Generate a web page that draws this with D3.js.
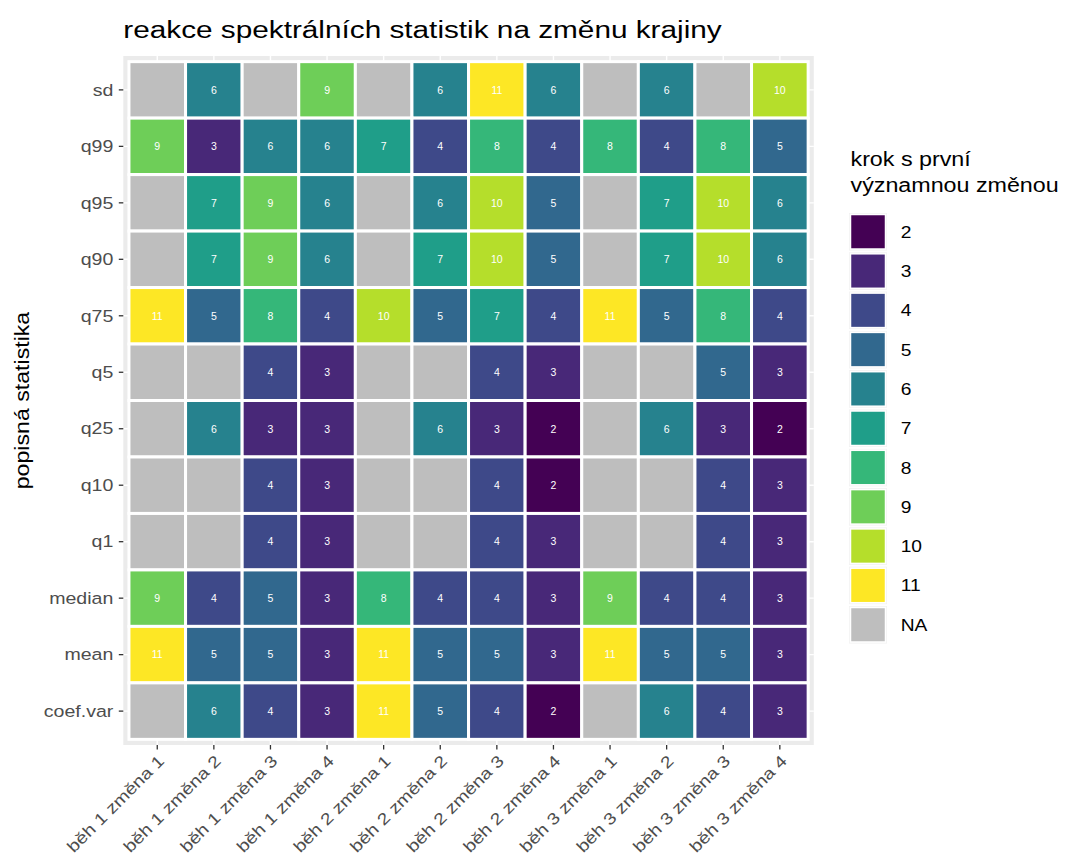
<!DOCTYPE html>
<html>
<head>
<meta charset="utf-8">
<script src="https://cdn.jsdelivr.net/npm/d3@7"></script>
<style>
  html, body { margin: 0; padding: 0; background: #fff; }
  svg text { font-family: "Liberation Sans", Arial, sans-serif; }
</style>
</head>
<body>
<svg id="chart" width="1072" height="857"></svg>
<script>
// Column categories (run × change) and row statistics (top to bottom)
const columns = [
  "běh 1 změna 1", "běh 1 změna 2", "běh 1 změna 3", "běh 1 změna 4",
  "běh 2 změna 1", "běh 2 změna 2", "běh 2 změna 3", "běh 2 změna 4",
  "běh 3 změna 1", "běh 3 změna 2", "běh 3 změna 3", "běh 3 změna 4"
];
const statistics = ["sd", "q99", "q95", "q90", "q75", "q5", "q25", "q10", "q1", "median", "mean", "coef.var"];

// Step with the first significant change, one array per statistic (null = NA)
const sd      = [null, 6, null, 9, null, 6, 11, 6, null, 6, null, 10];
const q99     = [9, 3, 6, 6, 7, 4, 8, 4, 8, 4, 8, 5];
const q95     = [null, 7, 9, 6, null, 6, 10, 5, null, 7, 10, 6];
const q90     = [null, 7, 9, 6, null, 7, 10, 5, null, 7, 10, 6];
const q75     = [11, 5, 8, 4, 10, 5, 7, 4, 11, 5, 8, 4];
const q5      = [null, null, 4, 3, null, null, 4, 3, null, null, 5, 3];
const q25     = [null, 6, 3, 3, null, 6, 3, 2, null, 6, 3, 2];
const q10     = [null, null, 4, 3, null, null, 4, 2, null, null, 4, 3];
const q1      = [null, null, 4, 3, null, null, 4, 3, null, null, 4, 3];
const median  = [9, 4, 5, 3, 8, 4, 4, 3, 9, 4, 4, 3];
const mean    = [11, 5, 5, 3, 11, 5, 5, 3, 11, 5, 5, 3];
const coefVar = [null, 6, 4, 3, 11, 5, 4, 2, null, 6, 4, 3];

const rowValues = [sd, q99, q95, q90, q75, q5, q25, q10, q1, median, mean, coefVar];

// Legend levels
const levels = [2, 3, 4, 5, 6, 7, 8, 9, 10, 11];
const levelLabels = ["2", "3", "4", "5", "6", "7", "8", "9", "10", "11", "NA"];

const title = "reakce spektrálních statistik na změnu krajiny";
const yTitle = "popisná statistika";
const legendTitle = ["krok s první", "významnou změnou"];

// Long-form table for the tiles
const cells = [];
statistics.forEach((s, i) => {
  rowValues[i].forEach((v, j) => cells.push({ stat: s, col: columns[j], value: v }));
});

const svg = d3.select("#chart");
const stretch = 1.2;   // horizontal widening of the text glyphs

// Panel geometry
const panel = { left: 123.3, top: 56, width: 690.5, height: 689 };
const naColor = "#BEBEBE";

const x = d3.scaleBand().domain(columns)
  .range([panel.left, panel.left + panel.width]).paddingOuter(0.1).paddingInner(0);
const y = d3.scaleBand().domain(statistics)
  .range([panel.top, panel.top + panel.height]).paddingOuter(0.1).paddingInner(0);

const color = d3.scaleOrdinal().domain(levels)
  .range(levels.map((d, i) => d3.interpolateViridis(i / (levels.length - 1))));
const fill = v => v == null ? naColor : color(v);

// Panel background and grid
svg.append("rect")
  .attr("x", panel.left).attr("y", panel.top)
  .attr("width", panel.width).attr("height", panel.height)
  .attr("fill", "#EBEBEB");

const grid = svg.append("g");
grid.selectAll("line.vx").data(columns).join("line")
  .attr("x1", d => x(d) + x.bandwidth() / 2).attr("x2", d => x(d) + x.bandwidth() / 2)
  .attr("y1", panel.top).attr("y2", panel.top + panel.height)
  .attr("stroke", "#fff").attr("stroke-width", 1.4);
grid.selectAll("line.hy").data(statistics).join("line")
  .attr("y1", d => y(d) + y.bandwidth() / 2).attr("y2", d => y(d) + y.bandwidth() / 2)
  .attr("x1", panel.left).attr("x2", panel.left + panel.width)
  .attr("stroke", "#fff").attr("stroke-width", 1.4);

// Tiles
const tiles = svg.append("g");
tiles.selectAll("rect").data(cells).join("rect")
  .attr("x", d => x(d.col)).attr("y", d => y(d.stat))
  .attr("width", x.bandwidth()).attr("height", y.bandwidth())
  .attr("fill", d => fill(d.value))
  .attr("stroke", "#fff").attr("stroke-width", 3);

tiles.selectAll("text").data(cells.filter(d => d.value != null)).join("text")
  .attr("x", d => x(d.col) + x.bandwidth() / 2)
  .attr("y", d => y(d.stat) + y.bandwidth() / 2)
  .attr("text-anchor", "middle").attr("dy", "0.36em")
  .attr("font-size", 10.5).attr("fill", "#fff")
  .text(d => d.value);

// Axes
const tickLen = 4.5;
const xAxis = svg.append("g")
  .attr("transform", `translate(0,${panel.top + panel.height})`)
  .call(d3.axisBottom(x).tickSize(tickLen).tickPadding(3));
xAxis.select(".domain").remove();
xAxis.selectAll(".tick line").attr("stroke", "#333").attr("stroke-width", 1.3);
xAxis.selectAll(".tick text")
  .attr("fill", "#4D4D4D").attr("font-size", 16.3)
  .attr("text-anchor", "end")
  .attr("dy", null)
  .attr("x", 0).attr("y", 0)
  .attr("transform", `translate(8,17) rotate(-45) scale(${stretch},1)`);

const yAxis = svg.append("g")
  .attr("transform", `translate(${panel.left},0)`)
  .call(d3.axisLeft(y).tickSize(tickLen).tickPadding(3));
yAxis.select(".domain").remove();
yAxis.selectAll(".tick line").attr("stroke", "#333").attr("stroke-width", 1.3);
yAxis.selectAll(".tick text")
  .attr("fill", "#4D4D4D").attr("font-size", 16.3)
  .attr("x", 0).attr("dy", "0.35em")
  .attr("transform", `translate(${-(tickLen + 5.5)},0) scale(${stretch},1)`);

// Titles
svg.append("text")
  .attr("transform", `translate(${panel.left},38) scale(${stretch},1)`)
  .attr("font-size", 24.8).attr("fill", "#000")
  .text(title);

svg.append("text")
  .attr("transform", `translate(29,${panel.top + panel.height / 2}) rotate(-90) scale(${stretch},1)`)
  .attr("text-anchor", "middle")
  .attr("font-size", 19.3).attr("fill", "#000")
  .text(yTitle);

// Legend
const legend = svg.append("g");
legend.selectAll("text.lt").data(legendTitle).join("text")
  .attr("class", "lt")
  .attr("transform", (d, i) => `translate(850.5,${166 + i * 26}) scale(${stretch},1)`)
  .attr("font-size", 19.4).attr("fill", "#000")
  .text(d => d);

const keyStep = 39.3;
const keys = legend.selectAll("g.key").data(levelLabels).join("g")
  .attr("class", "key")
  .attr("transform", (d, i) => `translate(849,${213 + i * keyStep})`);
keys.append("rect")
  .attr("x", 0).attr("y", 0).attr("width", 38).attr("height", 37.5)
  .attr("fill", "#F2F2F2");
keys.append("rect")
  .attr("x", 1.5).attr("y", 1.5).attr("width", 35).attr("height", 34.5)
  .attr("fill", d => d === "NA" ? naColor : color(+d))
  .attr("stroke", "#fff").attr("stroke-width", 1.5);
keys.append("text")
  .attr("transform", `translate(51.7,19) scale(${stretch},1)`)
  .attr("dy", "0.36em")
  .attr("font-size", 16).attr("fill", "#000")
  .text(d => d);
</script>
</body>
</html>
